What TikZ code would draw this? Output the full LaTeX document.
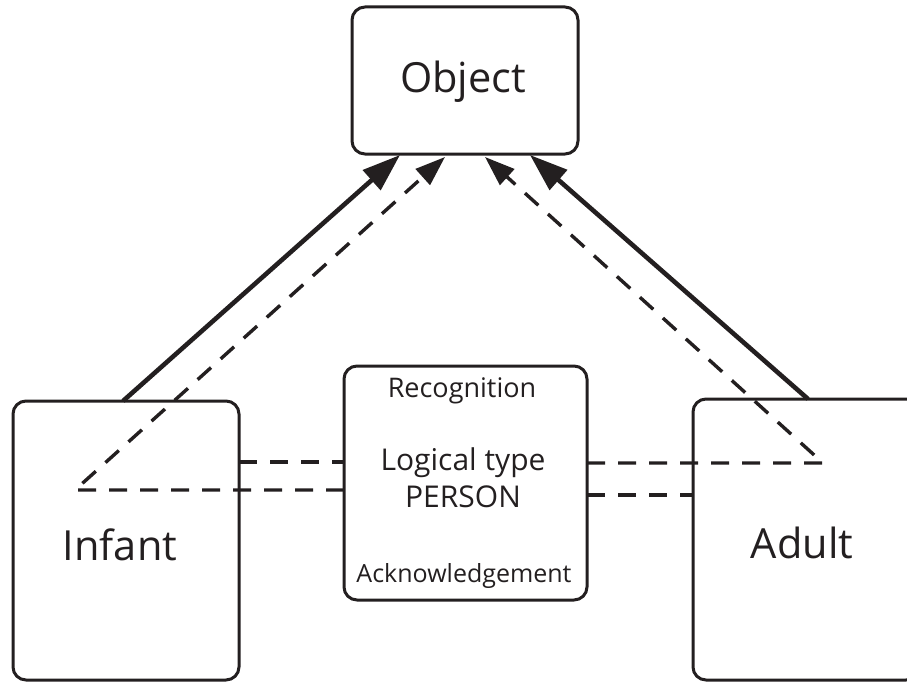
\documentclass[tikz,border=0pt]{standalone}
\usepackage{fontspec}
\setmainfont{Open Sans}
\usetikzlibrary{arrows.meta,calc}
\definecolor{ink}{RGB}{35,31,32}
\begin{document}
\begin{tikzpicture}[x=1pt,y=-1pt,
  box/.style={draw=ink, line width=3pt, rounded corners=13pt, inner sep=0pt, outer sep=0pt},
  big/.style={text=ink, anchor=base, inner sep=0pt, font=\fontsize{41.5}{48}\selectfont},
  mtxt/.style={text=ink, anchor=base, inner sep=0pt, font=\fontsize{30}{36}\selectfont},
  stxt/.style={text=ink, anchor=base, inner sep=0pt, font=\fontsize{25}{30}\selectfont},
  solidarrow/.style={draw=ink, line width=4.6pt, -{Triangle[length=38pt,width=26pt]}},
  dsh/.style={draw=ink, line width=3.4pt, dash pattern=on 18pt off 13pt},
  dashtip/.style={-{Triangle[length=30pt,width=21pt]}}]
\useasboundingbox (0,0) rectangle (907,682);
\clip (0,0) rectangle (907,682);
% boxes
\node[box, minimum width=226pt, minimum height=147pt] (obj) at (465,80.5) {};
\node[box, minimum width=226pt, minimum height=279pt] (inf) at (126,540.5) {};
\node[box, minimum width=226pt, minimum height=281pt] (adt) at (806,539.5) {};
\node[box, minimum width=243pt, minimum height=234pt] (mid) at (465.5,483) {};
% texts
\node[big] (objt) at (463,93) {Object};
\node[big] (inft) at (120,560) {Infant};
\node[big] (adtt) at (802,558) {Adult};
\node[stxt, font=\fontsize{27}{32}\selectfont] (rec) at (462,397) {Recognition};
\node[mtxt] (lt) at (463,470) {Logical type};
\node[mtxt] (per) at (463,507) {PERSON};
\node[stxt] (ack) at (464,582) {Acknowledgement};
% corner points of dashed paths
\coordinate (il) at (75,490);
\coordinate (ar) at (823,463);
% solid arrows
\draw[solidarrow] ($(inf.north west)+(110,0)$) -- ($(obj.south west)+(48,1)$);
\draw[solidarrow] ($(adt.north west)+(115,0)$) -- ($(obj.south west)+(178,1)$);
% dashed paths
\draw[dsh, dashtip] (mid.west |- 0,490) -- (il) -- ($(obj.south west)+(93,3)$);
\draw[dsh, dashtip] (mid.east |- 0,463) -- (ar) -- ($(obj.south west)+(133,3)$);
\draw[dsh] (inf.east |- 0,462) -- (mid.west |- 0,462);
\draw[dsh] (mid.east |- 0,495) -- (adt.west |- 0,495);
\end{tikzpicture}
\end{document}
